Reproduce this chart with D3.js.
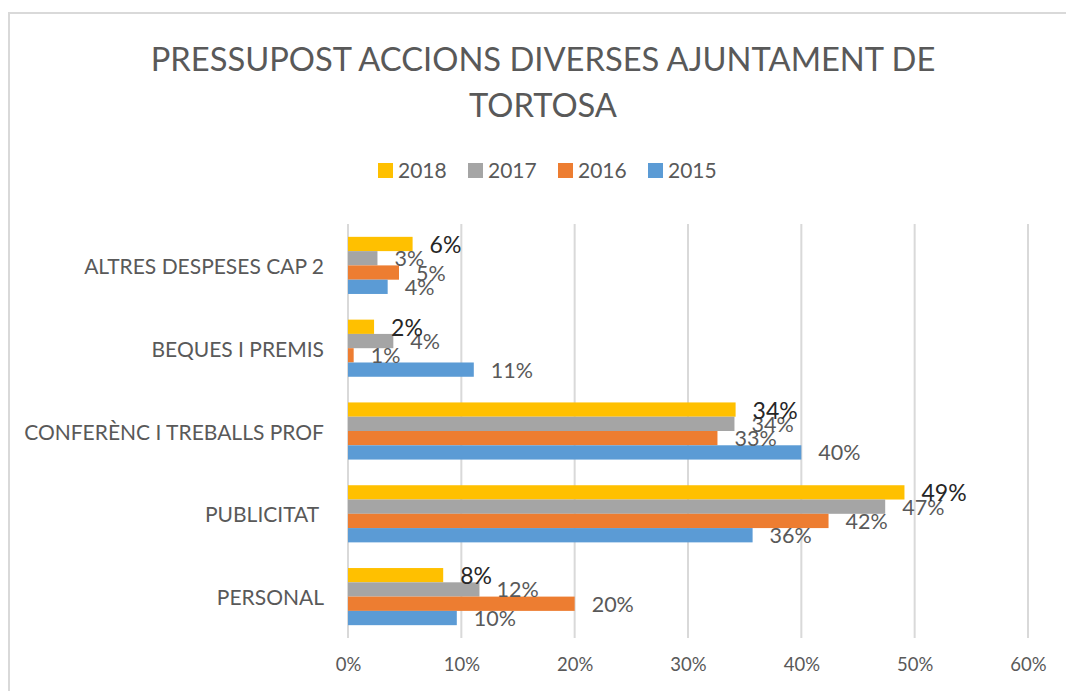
<!DOCTYPE html>
<html>
<head>
<meta charset="utf-8">
<script src="https://cdn.jsdelivr.net/npm/d3@7"></script>
<style>
  html, body { margin: 0; padding: 0; background: #fff; }
  svg { display: block; font-family: Lato, "Open Sans", sans-serif; }
</style>
</head>
<body>
<svg id="chart" width="1066" height="691"></svg>
<script>
// categories top to bottom, as in the picture
const categories = ["ALTRES DESPESES CAP 2", "BEQUES I PREMIS", "CONFERÈNC I TREBALLS PROF", "PUBLICITAT ", "PERSONAL"];
// series in legend order (and top to bottom inside a group)
const years = ["2018", "2017", "2016", "2015"];
const v2018 = [5.7, 2.3, 34.2, 49.1, 8.4];
const v2017 = [2.6, 4.0, 34.1, 47.4, 11.6];
const v2016 = [4.5, 0.5, 32.6, 42.4, 20.0];
const v2015 = [3.5, 11.1, 40.0, 35.7, 9.6];
const ticks = [0, 10, 20, 30, 40, 50, 60];

const series = { "2018": v2018, "2017": v2017, "2016": v2016, "2015": v2015 };
const colors = { "2018": "#FFC000", "2017": "#A5A5A5", "2016": "#ED7D31", "2015": "#5B9BD5" };

const svg = d3.select("#chart");
const M = { t: 224, r: 38, b: 53, l: 348 };
const W = 1066, H = 691;

// chart frame
svg.append("rect").attr("x", 9).attr("y", 13).attr("width", 1070).attr("height", 700)
  .attr("fill", "none").attr("stroke", "#d9d9d9").attr("stroke-width", 2);

// ── title ──
const title = svg.append("text").attr("text-anchor", "middle").attr("fill", "#595959")
  .style("font-size", "32.7px");
title.append("tspan").attr("x", 543).attr("y", 71).text("PRESSUPOST ACCIONS DIVERSES AJUNTAMENT DE");
title.append("tspan").attr("x", 543).attr("y", 117).text("TORTOSA");

// ── legend ──
const leg = svg.append("g").attr("transform", "translate(378,163)");
const li = leg.selectAll("g").data(years).join("g")
  .attr("transform", (d, i) => `translate(${i * 90},0)`);
li.append("rect").attr("width", 15).attr("height", 15).attr("fill", d => colors[d]);
li.append("text").attr("x", 20).attr("y", 15).attr("fill", "#595959")
  .style("font-size", "21px").text(d => d);

// ── scales ──
const x = d3.scaleLinear().domain([0, 60]).range([M.l, 1028]);
const y0 = d3.scaleBand().domain(categories).range([M.t, H - M.b])
  .paddingInner(0.31).paddingOuter(0.155);
const y1 = d3.scaleBand().domain(years).range([0, y0.bandwidth()]);

// gridlines
svg.append("g").selectAll("line").data(ticks).join("line")
  .attr("x1", d => x(d)).attr("x2", d => x(d))
  .attr("y1", M.t).attr("y2", H - M.b)
  .attr("stroke", "#d9d9d9").attr("stroke-width", 2);

// x axis labels
const xAx = svg.append("g").attr("transform", `translate(0,${H - M.b})`)
  .call(d3.axisBottom(x).tickValues(ticks).tickSize(0).tickPadding(20).tickFormat(d => d + "%"));
xAx.select(".domain").remove();
xAx.selectAll("text").attr("fill", "#595959").style("font-size", "18.5px").style("font-family", "Lato, sans-serif");

// category labels
svg.append("g").selectAll("text").data(categories).join("text")
  .attr("x", 324).attr("y", d => y0(d) + y0.bandwidth() / 2)
  .attr("text-anchor", "end").attr("dominant-baseline", "central")
  .attr("fill", "#595959").style("font-size", "21px").style("white-space", "pre")
  .attr("xml:space", "preserve")
  .text(d => d);

// bars
const rows = [];
years.forEach(yr => categories.forEach((c, i) => rows.push({ yr, c, v: series[yr][i] })));

const g = svg.append("g");
g.selectAll("rect").data(rows).join("rect")
  .attr("x", x(0))
  .attr("y", d => y0(d.c) + y1(d.yr))
  .attr("width", d => x(d.v) - x(0))
  .attr("height", y1.bandwidth())
  .attr("fill", d => colors[d.yr]);

// data labels, bottom series first so 2018 sits on top
const lblRows = rows.slice().reverse();
g.selectAll("text").data(lblRows).join("text")
  .attr("x", d => x(d.v) + 17)
  .attr("y", d => y0(d.c) + y1(d.yr) + y1.bandwidth() / 2)
  .attr("dominant-baseline", "central")
  .attr("fill", d => d.yr === "2018" ? "#262626" : "#595959")
  .style("font-size", d => d.yr === "2018" ? "23px" : "21.5px")
  .text(d => Math.round(d.v) + "%");
</script>
</body>
</html>
